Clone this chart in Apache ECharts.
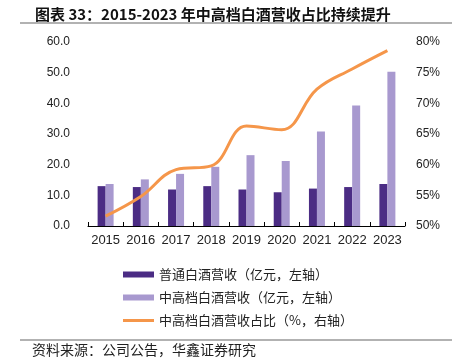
<!DOCTYPE html>
<html><head><meta charset="utf-8">
<script src="https://cdn.jsdelivr.net/npm/echarts@6/dist/echarts.min.js"></script>
<style>html,body{margin:0;padding:0;background:#fff}#c{width:459px;height:364px}</style>
</head><body><div id="c"></div>
<script>
const categories = ['2015','2016','2017','2018','2019','2020','2021','2022','2023'];
const regularRevenue = [13.0, 12.7, 11.9, 13.0, 11.9, 11.0, 12.2, 12.7, 13.7];
const premiumRevenue = [13.7, 15.2, 17.0, 19.3, 23.1, 21.2, 30.8, 39.3, 50.3];
const premiumShare = [51.6, 54.8, 59.2, 59.8, 66.3, 65.7, 72.3, 75.6, 78.6];
const seriesNames = ['普通白酒营收（亿元，左轴）','中高档白酒营收（亿元，左轴）','中高档白酒营收占比（%，右轴）'];
const titleText = '图表 33：2015-2023 年中高档白酒营收占比持续提升';
const sourceText = '资料来源：公司公告，华鑫证券研究';

const FONT = '"Liberation Sans", "Noto Sans CJK SC", sans-serif';
const CJK = '"Noto Sans CJK SC", sans-serif';
const chart = echarts.init(document.getElementById('c'));
chart.setOption({
  backgroundColor: '#fff',
  animation: false,
  title: {
    text: titleText, left: 30, top: 2,
    textStyle: {fontFamily: CJK, fontSize: 15, fontWeight: 'bold', color: '#111'}
  },
  graphic: [
    {type: 'line', shape: {x1: 20, y1: 23, x2: 452, y2: 23}, style: {stroke: '#999', lineWidth: 1.5}},
    {type: 'line', shape: {x1: 20, y1: 340, x2: 452, y2: 340}, style: {stroke: '#999', lineWidth: 1.5}},
    {type: 'text', left: 32, top: 343, style: {text: sourceText, font: '14px ' + CJK, fill: '#222'}}
  ],
  legend: {
    orient: 'vertical', left: 118, top: 263, itemWidth: 31, itemHeight: 6, itemGap: 10,
    textStyle: {fontFamily: CJK, fontSize: 13, color: '#222'},
    data: [
      {name: seriesNames[0], icon: 'rect'},
      {name: seriesNames[1], icon: 'rect'},
      {name: seriesNames[2], icon: 'path://M0,0H31V3H0Z'}
    ]
  },
  grid: {left: 88, right: 54, top: 42, bottom: 138},
  xAxis: {
    type: 'category', data: categories,
    axisLine: {lineStyle: {color: '#000', width: 1}},
    axisTick: {show: true, inside: true, length: 4, lineStyle: {color: '#000'}},
    axisLabel: {fontFamily: FONT, fontSize: 13, color: '#222', margin: 8, interval: 0}
  },
  yAxis: [
    {type: 'value', min: 0, max: 60, interval: 10,
     axisLine: {show: false}, axisTick: {show: false}, splitLine: {show: false},
     axisLabel: {fontFamily: FONT, fontSize: 12, color: '#222', margin: 18, formatter: v => v.toFixed(1)}},
    {type: 'value', min: 50, max: 80, interval: 5,
     axisLine: {show: false}, axisTick: {show: false}, splitLine: {show: false},
     axisLabel: {fontFamily: FONT, fontSize: 12, color: '#222', margin: 11, formatter: '{value}%'}}
  ],
  series: [
    {name: seriesNames[0], type: 'bar', data: regularRevenue, barWidth: 8, barGap: '0%',
     itemStyle: {color: '#4B2C84'}},
    {name: seriesNames[1], type: 'bar', data: premiumRevenue, barWidth: 8, barGap: '0%',
     itemStyle: {color: '#A899CF'}},
    {name: seriesNames[2], type: 'line', yAxisIndex: 1, data: premiumShare, smooth: 0.4,
     showSymbol: false, symbol: 'none', lineStyle: {color: '#F5964A', width: 3}, itemStyle: {color: '#F5964A'}}
  ]
});
</script></body></html>
